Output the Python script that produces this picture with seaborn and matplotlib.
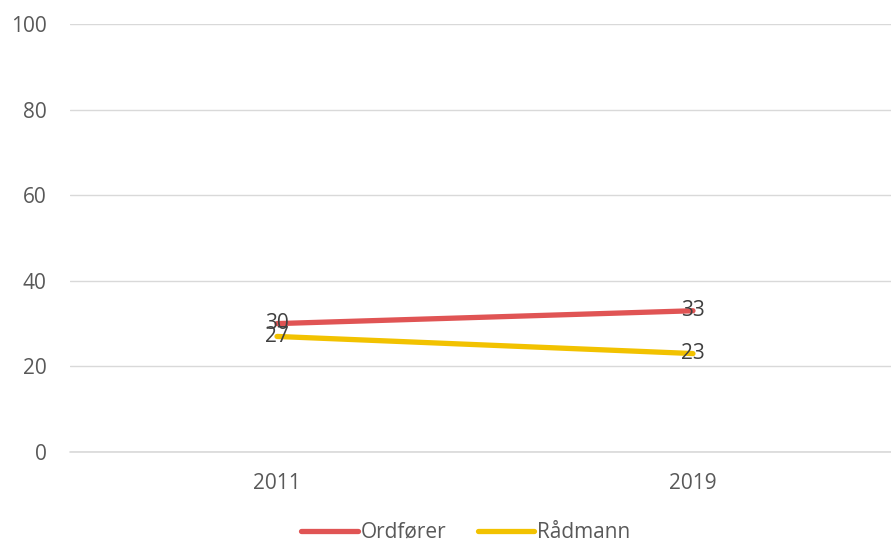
import matplotlib
matplotlib.use("Agg")
import matplotlib.pyplot as plt
import seaborn as sns
import pandas as pd

years = ["2011", "2019"]
ordforer = [30, 33]
radmann = [27, 23]
series_names = ["Ordfører", "Rådmann"]
colors = ["#E05454", "#F2C200"]

df = pd.DataFrame({
    "year": years * 2,
    "value": ordforer + radmann,
    "series": [series_names[0]] * len(years) + [series_names[1]] * len(years),
})

sns.set_theme(style="white")
plt.rcParams["font.family"] = ["Open Sans", "DejaVu Sans"]
FS = 15

fig = plt.figure(figsize=(8.91, 5.44), dpi=100)
ax = fig.add_axes([70 / 891, 1 - 452 / 544, 1 - 70 / 891, (452 - 24) / 544])

sns.lineplot(data=df, x="year", y="value", hue="series", palette=colors,
             linewidth=3.8, ax=ax, sort=False, legend=True)

for name in series_names:
    sub = df[df["series"] == name]
    for xv, yv in zip(sub["year"], sub["value"]):
        ax.text(years.index(xv), yv, f"{yv}", ha="center", va="center",
                fontsize=FS, color="#404040", zorder=5)

ax.set_ylim(0, 100)
ax.set_yticks([0, 20, 40, 60, 80, 100])
ax.set_xlim(-0.4976, 1.476)
ax.set_xticks([0, 1])
ax.set_xticklabels(years)
ax.set_xlabel("")
ax.set_ylabel("")
ax.grid(axis="y", color="#D9D9D9", linewidth=1)
ax.axhline(0, color="#D9D9D9", linewidth=1.2, clip_on=False, zorder=0)
ax.set_axisbelow(True)
for s in ax.spines.values():
    s.set_visible(False)
ax.tick_params(axis="y", length=0, pad=17, labelsize=FS, labelcolor="#595959")
ax.tick_params(axis="x", length=0, pad=15, labelsize=FS, labelcolor="#595959")

leg = ax.legend(loc="center", bbox_to_anchor=(0.482, -0.188), ncol=2,
                frameon=False, fontsize=FS, handlelength=2.7,
                handletextpad=0.15, columnspacing=1.5)
for t in leg.get_texts():
    t.set_color("#595959")
for h in leg.get_lines():
    h.set_linewidth(3.8)

fig.savefig("out.png", dpi=100)
